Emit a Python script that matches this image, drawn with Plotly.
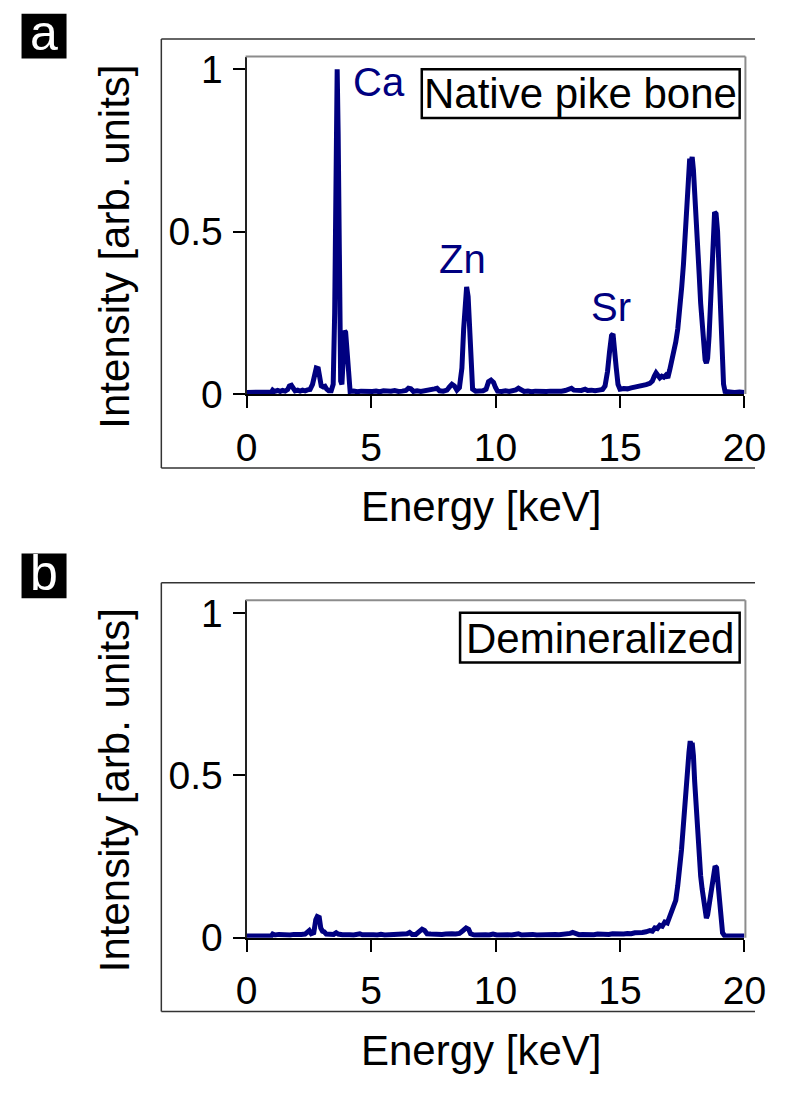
import plotly.graph_objects as go

# ---------------------------------------------------------------- data
# XRF spectrum of native pike bone (energy in keV, normalised intensity)
energy_native = [
    0.00, 0.90, 1.00, 1.05, 1.12, 1.25, 1.35, 1.45, 1.55, 1.65, 1.72, 1.80, 1.88,
    1.95, 2.05, 2.15, 2.25, 2.35, 2.45, 2.55, 2.65, 2.72, 2.80, 2.88, 2.95, 3.00,
    3.08, 3.15, 3.22, 3.30, 3.40, 3.48, 3.54, 3.60, 3.64, 3.68, 3.73, 3.78, 3.83,
    3.88, 3.94, 3.98, 4.04, 4.10, 4.16, 4.30, 4.45, 4.60, 4.75, 4.90, 5.05, 5.20,
    5.35, 5.50, 5.65, 5.80, 5.95, 6.10, 6.25, 6.40, 6.50, 6.60, 6.70, 6.85, 7.00,
    7.15, 7.30, 7.45, 7.55, 7.65, 7.75, 7.90, 8.05, 8.15, 8.25, 8.35, 8.45, 8.55,
    8.65, 8.72, 8.78, 8.84, 8.90, 8.96, 9.02, 9.08, 9.20, 9.35, 9.50, 9.62, 9.72,
    9.82, 9.92, 10.00, 10.08, 10.25, 10.40, 10.55, 10.70, 10.82, 10.92, 11.02,
    11.15, 11.30, 11.45, 11.60, 11.75, 11.90, 12.05, 12.20, 12.35, 12.50, 12.65,
    12.80, 12.95, 13.05, 13.15, 13.30, 13.45, 13.60, 13.70, 13.85, 14.00, 14.15,
    14.30, 14.40, 14.50, 14.58, 14.66, 14.72, 14.78, 14.85, 14.92, 15.00, 15.15,
    15.30, 15.45, 15.60, 15.75, 15.90, 16.05, 16.20, 16.30, 16.38, 16.45, 16.52,
    16.60, 16.68, 16.76, 16.84, 16.92, 17.00, 17.08, 17.16, 17.24, 17.32, 17.40,
    17.48, 17.55, 17.62, 17.69, 17.75, 17.80, 17.85, 17.90, 17.95, 18.00, 18.06,
    18.12, 18.18, 18.24, 18.30, 18.36, 18.42, 18.47, 18.52, 18.58, 18.64, 18.70,
    18.75, 18.80, 18.86, 18.92, 18.98, 19.04, 19.10, 19.16, 19.22, 19.40, 19.60,
    19.80, 20.00,
]
intensity_native = [
    0.005, 0.005, 0.006, 0.012, 0.008, 0.011, 0.008, 0.011, 0.009, 0.014, 0.025,
    0.027, 0.020, 0.010, 0.012, 0.009, 0.012, 0.010, 0.013, 0.014, 0.030, 0.065,
    0.080, 0.078, 0.050, 0.025, 0.022, 0.024, 0.015, 0.010, 0.010, 0.030, 0.250,
    0.800, 1.000, 0.800, 0.250, 0.040, 0.030, 0.120, 0.195, 0.190, 0.120, 0.030,
    0.008, 0.009, 0.007, 0.009, 0.008, 0.010, 0.008, 0.009, 0.007, 0.010, 0.008,
    0.009, 0.011, 0.008, 0.009, 0.011, 0.018, 0.016, 0.008, 0.010, 0.008, 0.010,
    0.009, 0.011, 0.016, 0.018, 0.010, 0.009, 0.012, 0.022, 0.030, 0.025, 0.012,
    0.020, 0.080, 0.200, 0.300, 0.330, 0.300, 0.180, 0.060, 0.015, 0.009, 0.008,
    0.010, 0.015, 0.038, 0.043, 0.036, 0.020, 0.009, 0.008, 0.010, 0.008, 0.010,
    0.013, 0.018, 0.012, 0.008, 0.009, 0.007, 0.009, 0.008, 0.010, 0.008, 0.009,
    0.008, 0.010, 0.009, 0.011, 0.014, 0.018, 0.012, 0.010, 0.011, 0.015, 0.011,
    0.012, 0.010, 0.012, 0.014, 0.025, 0.070, 0.130, 0.180, 0.185, 0.150, 0.080,
    0.030, 0.015, 0.017, 0.016, 0.019, 0.021, 0.024, 0.026, 0.029, 0.033, 0.040,
    0.055, 0.065, 0.058, 0.050, 0.055, 0.052, 0.058, 0.050, 0.075, 0.100, 0.130,
    0.160, 0.200, 0.250, 0.330, 0.400, 0.490, 0.620, 0.690, 0.725, 0.710, 0.730,
    0.690, 0.630, 0.540, 0.460, 0.370, 0.280, 0.200, 0.140, 0.105, 0.095, 0.110,
    0.180, 0.300, 0.450, 0.550, 0.560, 0.555, 0.500, 0.380, 0.230, 0.100, 0.030,
    0.008, 0.006, 0.005, 0.006, 0.005,
]

# XRF spectrum of the demineralized sample
energy_demin = [
    0.00, 1.00, 1.05, 1.15, 1.30, 1.45, 1.60, 1.75, 1.90, 2.05, 2.20, 2.35, 2.45,
    2.52, 2.60, 2.70, 2.78, 2.84, 2.92, 2.98, 3.05, 3.12, 3.20, 3.35, 3.50, 3.60,
    3.68, 3.85, 4.00, 4.15, 4.30, 4.45, 4.55, 4.65, 4.80, 4.95, 5.10, 5.25, 5.40,
    5.55, 5.70, 5.85, 6.00, 6.15, 6.30, 6.45, 6.55, 6.65, 6.80, 6.95, 7.05, 7.15,
    7.25, 7.40, 7.55, 7.70, 7.85, 8.00, 8.15, 8.25, 8.40, 8.55, 8.70, 8.82, 8.92,
    9.00, 9.15, 9.30, 9.45, 9.60, 9.75, 9.90, 10.05, 10.20, 10.35, 10.50, 10.65,
    10.80, 10.92, 11.05, 11.20, 11.35, 11.50, 11.65, 11.80, 11.95, 12.10, 12.25,
    12.40, 12.55, 12.70, 12.85, 13.00, 13.10, 13.20, 13.35, 13.50, 13.65, 13.80,
    13.95, 14.10, 14.25, 14.40, 14.55, 14.70, 14.85, 15.00, 15.15, 15.30, 15.45,
    15.60, 15.75, 15.90, 16.05, 16.20, 16.30, 16.40, 16.50, 16.60, 16.70, 16.80,
    16.90, 17.00, 17.08, 17.16, 17.24, 17.32, 17.40, 17.47, 17.53, 17.59, 17.65,
    17.71, 17.77, 17.82, 17.86, 17.90, 17.95, 18.00, 18.06, 18.12, 18.18, 18.24,
    18.30, 18.36, 18.42, 18.47, 18.52, 18.58, 18.64, 18.70, 18.76, 18.82, 18.88,
    18.94, 19.00, 19.06, 19.12, 19.20, 19.40, 19.70, 20.00,
]
intensity_demin = [
    0.005, 0.006, 0.011, 0.008, 0.010, 0.009, 0.010, 0.008, 0.010, 0.009, 0.010,
    0.011, 0.015, 0.022, 0.012, 0.015, 0.055, 0.065, 0.062, 0.030, 0.020, 0.018,
    0.011, 0.009, 0.010, 0.015, 0.011, 0.009, 0.010, 0.009, 0.008, 0.010, 0.012,
    0.009, 0.010, 0.008, 0.009, 0.008, 0.010, 0.008, 0.009, 0.008, 0.010, 0.009,
    0.010, 0.012, 0.016, 0.010, 0.010, 0.020, 0.026, 0.022, 0.012, 0.011, 0.010,
    0.012, 0.010, 0.011, 0.013, 0.012, 0.011, 0.013, 0.022, 0.030, 0.026, 0.012,
    0.008, 0.009, 0.008, 0.009, 0.008, 0.011, 0.008, 0.009, 0.008, 0.009, 0.008,
    0.010, 0.012, 0.008, 0.009, 0.008, 0.010, 0.008, 0.009, 0.008, 0.010, 0.009,
    0.010, 0.009, 0.010, 0.010, 0.013, 0.016, 0.012, 0.009, 0.010, 0.009, 0.010,
    0.009, 0.011, 0.010, 0.011, 0.010, 0.012, 0.011, 0.012, 0.011, 0.013, 0.012,
    0.015, 0.014, 0.016, 0.018, 0.022, 0.020, 0.030, 0.028, 0.038, 0.035, 0.048,
    0.045, 0.065, 0.080, 0.095, 0.115, 0.160, 0.210, 0.270, 0.330, 0.400, 0.460,
    0.520, 0.570, 0.605, 0.590, 0.600, 0.560, 0.480, 0.400, 0.320, 0.250, 0.190,
    0.150, 0.105, 0.070, 0.060, 0.070, 0.100, 0.140, 0.175, 0.215, 0.220, 0.215,
    0.160, 0.090, 0.045, 0.015, 0.006, 0.005, 0.005, 0.005,
]

x_ticks = [0, 5, 10, 15, 20]
y_ticks = [0, 0.5, 1]
y_tick_text = ["0", "0.5", "1"]

# element labels on the native spectrum: (text, x px, y px)
element_labels = [("Ca", 384, 76), ("Zn", 472, 258), ("Sr", 627, 307)]

# ---------------------------------------------------------------- layout
# the figure sits inside the page's default 8 px body margin
W, H = 793 - 16, 1104 - 16
FONT = "Liberation Sans"
NAVY = "#000080"
FRAME_GRAY = "#8c8c8c"


def fx(px):
    """x pixel -> paper fraction"""
    return min(px, W) / W


def fy(py):
    """y pixel (from top) -> paper fraction"""
    return 1 - py / H


PANEL_SHIFT = 559  # vertical offset (px) between the two panels
X_LEFT, X_RIGHT = 246, 766
AXIS_Y = 397       # y pixel of the x axis (panel a)
FRAME_TOP = 50     # y pixel of the plot frame top (panel a)
Y_MAX = (AXIS_Y - FRAME_TOP) / 334

fig = go.Figure()

fig.add_trace(go.Scatter(x=energy_native, y=intensity_native, mode="lines",
                         line=dict(color=NAVY, width=5),
                         xaxis="x", yaxis="y", showlegend=False))
fig.add_trace(go.Scatter(x=energy_demin, y=intensity_demin, mode="lines",
                         line=dict(color=NAVY, width=5),
                         xaxis="x2", yaxis="y2", showlegend=False))

shapes = []
annotations = []

common_x = dict(range=[0, 20], tickvals=x_ticks, showgrid=False, zeroline=False,
                showline=True, linecolor="black", linewidth=2,
                ticks="outside", ticklen=12, tickwidth=2, tickcolor="black",
                tickfont=dict(family=FONT, size=39, color="black"),
                ticklabelstandoff=6, ticklabeloverflow="allow",
                fixedrange=True)
common_y = dict(range=[0, Y_MAX], tickvals=y_ticks, ticktext=y_tick_text,
                showgrid=False, zeroline=False,
                showline=True, linecolor="#222222", linewidth=2,
                ticks="outside", ticklen=12, tickwidth=1.5, tickcolor="black",
                tickfont=dict(family=FONT, size=39, color="black"),
                ticklabelstandoff=2, fixedrange=True)


def hline(x0, x1, y, color, width):
    return dict(type="line", xref="paper", yref="paper", x0=fx(x0), x1=fx(x1),
                y0=fy(y), y1=fy(y), line=dict(color=color, width=width))


def vline(x, y0, y1, color, width):
    return dict(type="line", xref="paper", yref="paper", x0=fx(x), x1=fx(x),
                y0=fy(y0), y1=fy(y1), line=dict(color=color, width=width))


layout_axes = {}
letter_boxes = [("a", 6), ("b", 561)]
for i, (sfx, (label, box_top)) in enumerate(zip(["", "2"], letter_boxes)):
    dy = i * PANEL_SHIFT
    layout_axes["xaxis" + sfx] = dict(common_x, domain=[fx(X_LEFT), fx(X_RIGHT)],
                                      anchor="y" + sfx)
    layout_axes["yaxis" + sfx] = dict(common_y,
                                      domain=[fy(AXIS_Y + dy), fy(FRAME_TOP + dy)],
                                      anchor="x" + sfx)

    # outer panel box, open at the right edge
    shapes.append(hline(157, W, 32 + dy, "#333333", 1.5))
    shapes.append(hline(157, W, 473 + dy, "#333333", 1.5))
    shapes.append(vline(157, 32 + dy, 473 + dy, "#333333", 1.5))
    # gray frame: top and right edges of the plot area
    shapes.append(hline(X_LEFT - 1, 767, FRAME_TOP + dy, FRAME_GRAY, 2))
    shapes.append(vline(767, FRAME_TOP + dy, AXIS_Y + dy, FRAME_GRAY, 2))

    # panel letter on a black square
    shapes.append(dict(type="rect", xref="paper", yref="paper",
                       x0=fx(11), x1=fx(58), y0=fy(box_top),
                       y1=fy(box_top + 46),
                       fillcolor="black", line=dict(width=0)))
    annotations.append(dict(text=label, xref="paper", yref="paper",
                            x=fx(34.5), y=fy(box_top + 20), xanchor="center",
                            yanchor="middle", showarrow=False,
                            font=dict(family=FONT, size=50, color="white")))

    # axis titles
    annotations.append(dict(text="Intensity [arb. units]", xref="paper",
                            yref="paper", x=fx(108), y=fy(245 + dy),
                            textangle=-90, xanchor="center", yanchor="middle",
                            showarrow=False,
                            font=dict(family=FONT, size=42, color="black")))
    annotations.append(dict(text="Energy [keV]", xref="paper", yref="paper",
                            x=fx(491), y=fy(513 + dy), xanchor="center",
                            yanchor="middle", showarrow=False,
                            font=dict(family=FONT, size=42, color="black")))

# sample boxes: (text, x0, x1, y0, y1, text centre y)
box_specs = [("Native pike bone", 429, 761, 63, 113, 87.5),
             ("Demineralized", 469, 761, 622, 673, 648.5)]
for text, x0, x1, y0, y1, ty in box_specs:
    shapes.append(dict(type="rect", xref="paper", yref="paper",
                       x0=fx(x0), x1=fx(x1), y0=fy(y0), y1=fy(y1),
                       fillcolor="white", line=dict(color="black", width=2.5)))
    annotations.append(dict(text=text, xref="paper", yref="paper",
                            x=fx((x0 + x1) / 2), y=fy(ty),
                            xanchor="center", yanchor="middle", showarrow=False,
                            font=dict(family=FONT, size=42, color="black")))

for text, px, py in element_labels:
    annotations.append(dict(text=text, xref="paper", yref="paper",
                            x=fx(px), y=fy(py), xanchor="center",
                            yanchor="middle", showarrow=False,
                            font=dict(family=FONT, size=40, color=NAVY)))

fig.update_layout(
    width=W, height=H, autosize=False,
    margin=dict(l=0, r=0, t=0, b=0),
    paper_bgcolor="white", plot_bgcolor="white",
    shapes=shapes, annotations=annotations,
    **layout_axes,
)

fig.write_html("out.html", config={"displayModeBar": False})
